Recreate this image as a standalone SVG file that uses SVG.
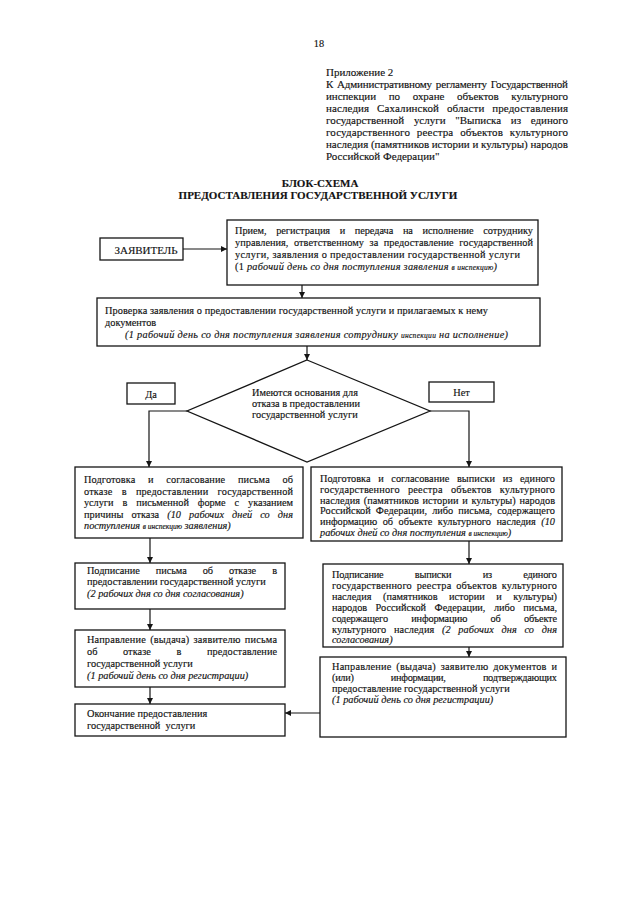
<svg xmlns="http://www.w3.org/2000/svg" width="635" height="905" viewBox="0 0 635 905">
<defs>
<style>
.t{font-family:"Liberation Serif","Times New Roman",serif;font-size:10.3px;fill:#121212;stroke:#121212;stroke-width:0.15px}
.h{font-size:11px}
.b{font-weight:bold}
.i{font-style:italic}
.s{font-size:7.5px}
.bx{fill:#fff;stroke:#151515;stroke-width:1.3}
.c{fill:none;stroke:#151515;stroke-width:1.2}
.a{marker-end:url(#arr)}
</style>
<marker id="arr" markerWidth="7" markerHeight="7" refX="6" refY="3" orient="auto" markerUnits="userSpaceOnUse">
<path d="M0,0 L6,3 L0,6 z" fill="#151515"/>
</marker>
</defs>
<rect width="635" height="905" fill="#fff"/>

<g id="header">
<text class="t" x="319" y="47" text-anchor="middle" font-size="14">18</text>
<text class="t h" x="326" y="75.5">Приложение 2</text>
<text class="t h" x="326" y="87.5" textLength="242" lengthAdjust="spacing" style="word-spacing:1.3px">К Административному регламенту Государственной</text>
<text class="t h" x="326" y="99.5" textLength="242" lengthAdjust="spacing" style="word-spacing:10px">инспекции по охране объектов культурного</text>
<text class="t h" x="326" y="111.5" textLength="242" lengthAdjust="spacing" style="word-spacing:5px">наследия Сахалинской области предоставления</text>
<text class="t h" x="326" y="123.5" textLength="242" lengthAdjust="spacing" style="word-spacing:7px">государственной услуги "Выписка из единого</text>
<text class="t h" x="326" y="135.5" textLength="242" lengthAdjust="spacing" style="word-spacing:4px">государственного реестра объектов культурного</text>
<text class="t h" x="326" y="147.5" textLength="242" lengthAdjust="spacing">наследия (памятников истории и культуры) народов</text>
<text class="t h" x="326" y="160">Российской Федерации"</text>
<text class="t h b" x="320" y="187" text-anchor="middle">БЛОК-СХЕМА</text>
<text class="t h b" x="318" y="198.5" text-anchor="middle">ПРЕДОСТАВЛЕНИЯ ГОСУДАРСТВЕННОЙ УСЛУГИ</text>
</g>

<g id="connectors">
<line class="c a" x1="183" y1="249" x2="227" y2="249"/>
<line class="c a" x1="302" y1="285" x2="302" y2="298"/>
<line class="c a" x1="307" y1="346" x2="307" y2="360"/>
<polyline class="c a" points="187,411 149,411 149,467"/>
<polyline class="c a" points="430,411 469,411 469,467"/>
<line class="c a" x1="150" y1="538" x2="150" y2="563"/>
<line class="c a" x1="150" y1="609" x2="150" y2="630"/>
<line class="c a" x1="150" y1="687" x2="150" y2="704"/>
<line class="c a" x1="469" y1="541" x2="469" y2="564"/>
<line class="c a" x1="469" y1="647" x2="469" y2="657"/>
<line class="c a" x1="320" y1="713" x2="285" y2="713"/>
</g>

<g id="applicant">
<rect class="bx" x="100" y="238" width="83" height="22"/>
<text class="t h" x="146" y="253.5" text-anchor="middle">ЗАЯВИТЕЛЬ</text>
</g>

<g id="reception">
<rect class="bx" x="227" y="220" width="311" height="65"/>
<text class="t" x="235" y="233.5" textLength="298" lengthAdjust="spacing" style="word-spacing:7px">Прием, регистрация и передача на исполнение сотруднику</text>
<text class="t" x="235" y="245.5" textLength="298" lengthAdjust="spacing" style="word-spacing:3px">управления, ответственному за предоставление государственной</text>
<text class="t" x="235" y="257.5" textLength="285" lengthAdjust="spacing">услуги, заявления о предоставлении государственной услуги</text>
<text class="t" x="235" y="269.5" textLength="262" lengthAdjust="spacing">(1 <tspan class="i">рабочий день со дня поступления заявления <tspan class="s">в инспекцию</tspan>)</tspan></text>
</g>

<g id="check">
<rect class="bx" x="97" y="298" width="443" height="48"/>
<text class="t" x="105" y="314" textLength="383" lengthAdjust="spacing">Проверка заявления о предоставлении государственной услуги и прилагаемых к нему</text>
<text class="t" x="105" y="325.5">документов</text>
<text class="t i" x="125" y="337.5" textLength="383" lengthAdjust="spacing">(1 рабочий день со дня поступления заявления сотруднику <tspan class="s">инспекции</tspan> на исполнение)</text>
</g>

<g id="decision">
<polygon class="bx" points="307,360 430,411 307,462 187,411"/>
<text class="t" x="252" y="396" font-size="9.6">Имеются основания для</text>
<text class="t" x="252" y="407" font-size="9.6">отказа в предоставлении</text>
<text class="t" x="252" y="418" font-size="9.6">государственной услуги</text>
</g>

<g id="yes">
<rect class="bx" x="127" y="383" width="48" height="21"/>
<text class="t" x="151" y="397.5" text-anchor="middle" font-size="10.5">Да</text>
</g>

<g id="no">
<rect class="bx" x="429" y="382" width="65" height="20"/>
<text class="t" x="461.5" y="396" text-anchor="middle" font-size="10.5">Нет</text>
</g>

<g id="refusal-prep">
<rect class="bx" x="75" y="467" width="228" height="71"/>
<text class="t" x="84" y="483" textLength="209" lengthAdjust="spacing" style="word-spacing:10px">Подготовка и согласование письма об</text>
<text class="t" x="84" y="494.5" textLength="209" lengthAdjust="spacing" style="word-spacing:6.5px">отказе в предоставлении государственной</text>
<text class="t" x="84" y="506" textLength="209" lengthAdjust="spacing" style="word-spacing:6.5px">услуги в письменной форме с указанием</text>
<text class="t" x="84" y="517.5" textLength="209" lengthAdjust="spacing" style="word-spacing:5.5px">причины отказа <tspan class="i">(10 рабочих дней со дня</tspan></text>
<text class="t i" x="84" y="529">поступления <tspan class="s">в инспекцию</tspan> заявления)</text>
</g>

<g id="extract-prep">
<rect class="bx" x="311" y="467" width="251" height="74"/>
<text class="t" x="320" y="482" textLength="235" lengthAdjust="spacing" style="word-spacing:5px">Подготовка и согласование выписки из единого</text>
<text class="t" x="320" y="492.8" textLength="235" lengthAdjust="spacing" style="word-spacing:5.5px">государственного реестра объектов культурного</text>
<text class="t" x="320" y="503.6" textLength="235" lengthAdjust="spacing" style="word-spacing:1px">наследия (памятников истории и культуры) народов</text>
<text class="t" x="320" y="514.4" textLength="235" lengthAdjust="spacing" style="word-spacing:2.5px">Российской Федерации, либо письма, содержащего</text>
<text class="t" x="320" y="525.2" textLength="235" lengthAdjust="spacing" style="word-spacing:3px">информацию об объекте культурного наследия <tspan class="i">(10</tspan></text>
<text class="t i" x="320" y="536">рабочих дней со дня поступления <tspan class="s">в инспекцию</tspan>)</text>
</g>

<g id="refusal-sign">
<rect class="bx" x="75" y="563" width="210" height="46"/>
<text class="t" x="87" y="574" textLength="190" lengthAdjust="spacing" style="word-spacing:13.5px">Подписание письма об отказе в</text>
<text class="t" x="87" y="585">предоставлении государственной услуги</text>
<text class="t i" x="87" y="596.5">(2 рабочих дня со дня согласования)</text>
</g>

<g id="refusal-send">
<rect class="bx" x="75" y="630" width="210" height="57"/>
<text class="t" x="87" y="642.5" textLength="190" lengthAdjust="spacing" style="word-spacing:1.5px">Направление (выдача) заявителю письма</text>
<text class="t" x="87" y="654.5" textLength="190" lengthAdjust="spacing" style="word-spacing:23px">об отказе в предоставление</text>
<text class="t" x="87" y="666.5">государственной услуги</text>
<text class="t i" x="87" y="679">(1 рабочий день со дня регистрации)</text>
</g>

<g id="end">
<rect class="bx" x="75" y="704" width="210" height="32"/>
<text class="t" x="87" y="717">Окончание предоставления</text>
<text class="t" x="87" y="728.5" xml:space="preserve">государственной  услуги</text>
</g>

<g id="extract-sign">
<rect class="bx" x="323" y="564" width="240" height="83"/>
<text class="t" x="332" y="578" textLength="225" lengthAdjust="spacing" style="word-spacing:29px">Подписание выписки из единого</text>
<text class="t" x="332" y="589" textLength="225" lengthAdjust="spacing" style="word-spacing:2px">государственного реестра объектов культурного</text>
<text class="t" x="332" y="600" textLength="225" lengthAdjust="spacing" style="word-spacing:9px">наследия (памятников истории и культуры)</text>
<text class="t" x="332" y="611" textLength="225" lengthAdjust="spacing" style="word-spacing:6px">народов Российской Федерации, либо письма,</text>
<text class="t" x="332" y="621.5" textLength="225" lengthAdjust="spacing" style="word-spacing:21px">содержащего информацию об объекте</text>
<text class="t" x="332" y="632.5" textLength="225" lengthAdjust="spacing" style="word-spacing:5px">культурного наследия <tspan class="i">(2 рабочих дня со дня</tspan></text>
<text class="t i" x="332" y="643">согласования)</text>
</g>

<g id="extract-send">
<rect class="bx" x="320" y="657" width="246" height="80"/>
<text class="t" x="332" y="670" textLength="225" lengthAdjust="spacing" style="word-spacing:2px">Направление (выдача) заявителю документов и</text>
<text class="t" x="332" y="681" textLength="225" lengthAdjust="spacing" style="word-spacing:35px">(или) информации, подтверждающих</text>
<text class="t" x="332" y="691.5">предоставление государственной услуги</text>
<text class="t i" x="332" y="702.5">(1 рабочий день со дня регистрации)</text>
</g>
</svg>
